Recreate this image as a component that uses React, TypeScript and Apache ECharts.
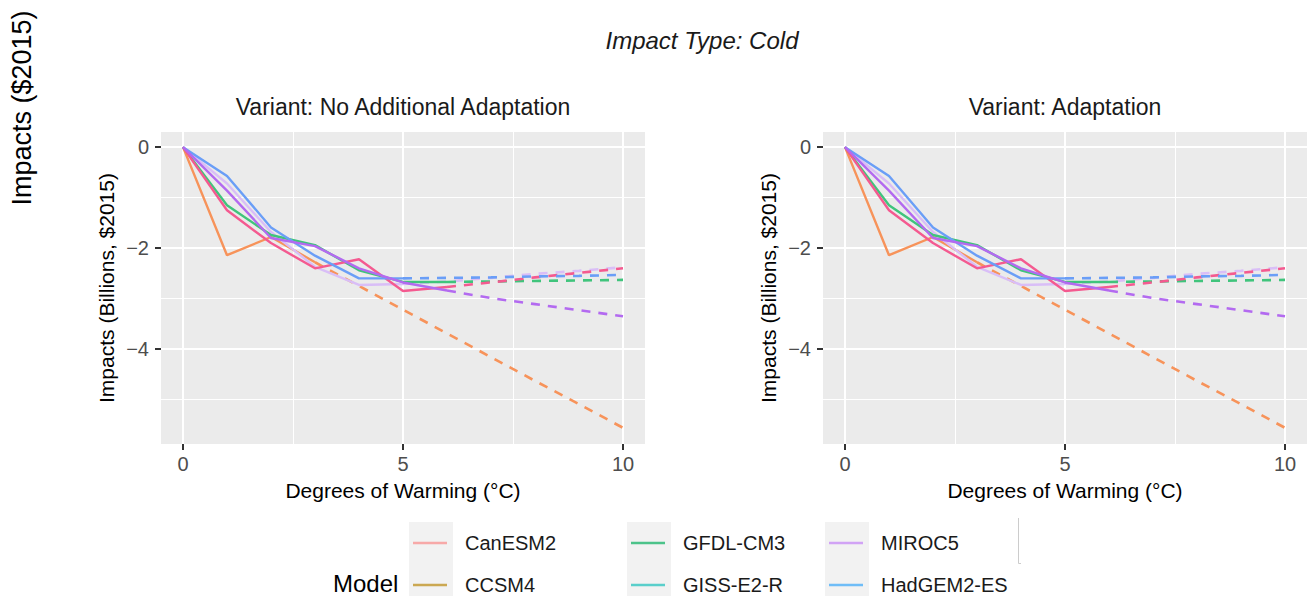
import React, { useEffect, useRef } from 'react';
import * as echarts from 'echarts';

// Degrees of warming (°C) at which impacts are reported
const warming = [0, 1, 2, 3, 4, 5, 6, 7, 8, 9, 10];

const models = ['CanESM2', 'CCSM4', 'GFDL-CM3', 'GISS-E2-R', 'HadGEM2-ES', 'MIROC5'];

// Cold impacts (billions, $2015) per model, one value per degree of warming
const canESM2 = [0, -1.25, -1.9, -2.4, -2.22, -2.85, -2.77, -2.68, -2.58, -2.49, -2.4];
const ccsm4 = [0, -2.14, -1.78, -2.28, -2.75, -3.22, -3.69, -4.16, -4.63, -5.09, -5.56];
const gfdlCM3 = [0, -1.15, -1.74, -1.94, -2.44, -2.67, -2.67, -2.66, -2.65, -2.64, -2.63];
const gissE2R = [0, -0.72, -1.68, -2.37, -2.73, -2.71, -2.66, -2.59, -2.51, -2.45, -2.38];
const hadGEM2ES = [0, -0.57, -1.59, -2.15, -2.6, -2.6, -2.59, -2.58, -2.56, -2.55, -2.53];
const miroc5 = [0, -0.86, -1.8, -1.96, -2.4, -2.68, -2.84, -2.99, -3.11, -3.23, -3.35];

// Last degree of warming covered by the model run; beyond it the curve is extrapolated
const observedUpTo = [6, 3, 6, 5, 5, 6];

const panels = ['Variant: No Additional Adaptation', 'Variant: Adaptation'];

const xTicks = [0, 5, 10];
const xMinorTicks = [2.5, 7.5];
const yTicks = [0, -2, -4];
const yMinorTicks = [-1, -3, -5];

const FONT = '"Liberation Sans", Arial, Helvetica, sans-serif';

const seriesValues = [canESM2, ccsm4, gfdlCM3, gissE2R, hadGEM2ES, miroc5];
const lineColors = ['#F45A90', '#F7935A', '#40C47C', '#D9BEF7', '#6A9EF7', '#B36AF0'];
const keyColors = ['#F7A9A8', '#CBA852', '#4CC38A', '#5ACFCB', '#6FBDF7', '#D1A3F5'];
const drawOrder = [1, 3, 2, 0, 4, 5];
const legendColumns = [
  ['CanESM2', 'CCSM4'],
  ['GFDL-CM3', 'GISS-E2-R'],
  ['MIROC5', 'HadGEM2-ES'],
];

const gridLeft = [161, 823];
const gridTop = 132;
const gridWidth = 484;
const gridHeight = 312;
const legendLeft = [413, 631, 829];

function minusLabel(v: number) {
  return v < 0 ? '\u2212' + Math.abs(v) : String(v);
}

function buildOption() {
  const grid = gridLeft.map((left) => ({
    left,
    top: gridTop,
    width: gridWidth,
    height: gridHeight,
    show: true,
    backgroundColor: '#EBEBEB',
    borderWidth: 0,
  }));

  const hiddenLine = { show: false, onZero: false };

  const xAxis: any[] = [];
  const yAxis: any[] = [];
  gridLeft.forEach((_, g) => {
    xAxis.push({
      type: 'value',
      gridIndex: g,
      position: 'bottom',
      min: -0.5,
      max: 10.5,
      axisLine: hiddenLine,
      axisTick: { show: true, customValues: xTicks, length: 6, lineStyle: { color: '#333333', width: 2 } },
      axisLabel: { customValues: xTicks, margin: 10, fontSize: 20, color: '#4D4D4D', fontFamily: FONT },
      splitLine: { show: true, lineStyle: { color: '#FFFFFF', width: 2 } },
      name: 'Degrees of Warming (°C)',
      nameLocation: 'middle',
      nameGap: 36,
      nameTextStyle: { fontSize: 21, color: '#000000', fontFamily: FONT },
    });
    xAxis.push({
      type: 'value',
      gridIndex: g,
      position: 'top',
      min: -0.5,
      max: 10.5,
      axisLine: hiddenLine,
      axisTick: { show: false, customValues: xMinorTicks },
      axisLabel: { show: false, customValues: xMinorTicks },
      splitLine: { show: true, lineStyle: { color: '#FFFFFF', width: 1 } },
    });
    yAxis.push({
      type: 'value',
      gridIndex: g,
      position: 'left',
      min: -5.88,
      max: 0.3,
      axisLine: hiddenLine,
      axisTick: { show: true, customValues: yTicks, length: 6, lineStyle: { color: '#333333', width: 2 } },
      axisLabel: {
        customValues: yTicks,
        margin: 12,
        fontSize: 20,
        color: '#4D4D4D',
        fontFamily: FONT,
        formatter: (v: number) => minusLabel(v),
      },
      splitLine: { show: true, lineStyle: { color: '#FFFFFF', width: 2 } },
      name: 'Impacts (Billions, $2015)',
      nameLocation: 'middle',
      nameGap: 44,
      nameTextStyle: { fontSize: 21, color: '#000000', fontFamily: FONT },
    });
    yAxis.push({
      type: 'value',
      gridIndex: g,
      position: 'right',
      min: -5.88,
      max: 0.3,
      axisLine: hiddenLine,
      axisTick: { show: false, customValues: yMinorTicks },
      axisLabel: { show: false, customValues: yMinorTicks },
      splitLine: { show: true, lineStyle: { color: '#FFFFFF', width: 1 } },
    });
  });

  const series: any[] = [];
  gridLeft.forEach((_, g) => {
    drawOrder.forEach((i) => {
      const values = seriesValues[i];
      const end = observedUpTo[i];
      const points = warming.map((x, k) => [x, values[k]]);
      const common = {
        type: 'line',
        name: models[i],
        xAxisIndex: g * 2,
        yAxisIndex: g * 2,
        symbol: 'none',
        showSymbol: false,
        silent: true,
        itemStyle: { color: keyColors[i] },
      };
      series.push({
        ...common,
        data: points.slice(0, end + 1),
        lineStyle: { color: lineColors[i], width: 2.4 },
      });
      series.push({
        ...common,
        data: points.slice(end),
        lineStyle: { color: lineColors[i], width: 2.6, type: [9, 8] },
      });
    });
  });

  const legend = legendColumns.map((names, c) => ({
    orient: 'vertical',
    left: legendLeft[c],
    top: 533,
    itemGap: 22,
    itemWidth: 34,
    itemHeight: 2.5,
    icon: 'rect',
    selectedMode: false,
    padding: 0,
    textStyle: { fontSize: 20, color: '#1A1A1A', fontFamily: FONT, padding: [0, 0, 0, 13], lineHeight: 20 },
    data: names.map((n) => ({ name: n, itemStyle: { color: keyColors[models.indexOf(n)] } })),
  }));

  const title = [
    {
      text: 'Impact Type: Cold',
      left: 702,
      top: 28,
      textAlign: 'center',
      padding: 0,
      textStyle: { fontSize: 24, fontStyle: 'italic', fontWeight: 'normal', color: '#1A1A1A', fontFamily: FONT },
    },
    ...panels.map((p, g) => ({
      text: p,
      left: gridLeft[g] + gridWidth / 2,
      top: 95,
      textAlign: 'center',
      padding: 0,
      textStyle: { fontSize: 23, fontWeight: 'normal', color: '#1A1A1A', fontFamily: FONT },
    })),
  ];

  const keyBoxes = legendLeft.map((l) => ({
    type: 'rect',
    shape: { x: l - 4, y: 522, width: 44, height: 80 },
    style: { fill: '#F2F2F2' },
    z: -1,
  }));

  const graphic = [
    ...keyBoxes,
    {
      type: 'text',
      x: 333,
      y: 583,
      style: { text: 'Model', font: `24px ${FONT}`, fill: '#000000', align: 'left', verticalAlign: 'middle' },
    },
    {
      type: 'text',
      x: 22,
      y: 108,
      rotation: Math.PI / 2,
      style: { text: 'Impacts ($2015)', font: `27px ${FONT}`, fill: '#000000', align: 'center', verticalAlign: 'middle' },
    },
    {
      type: 'polyline',
      shape: { points: [[1018.5, 518], [1018.5, 563.5], [1021, 563.5]] },
      style: { stroke: '#CCCCCC', lineWidth: 1, fill: 'none' },
    },
  ];

  return {
    animation: false,
    backgroundColor: '#FFFFFF',
    textStyle: { fontFamily: FONT },
    title,
    grid,
    xAxis,
    yAxis,
    legend,
    graphic,
    series,
  };
}

export default function App() {
  const ref = useRef<HTMLDivElement>(null);

  useEffect(() => {
    if (!ref.current) return;
    const chart = echarts.init(ref.current, undefined, { renderer: 'svg' });
    chart.setOption(buildOption() as any);
    return () => chart.dispose();
  }, []);

  return (
    <div
      ref={ref}
      style={{ position: 'absolute', left: 0, top: 0, width: 1311, height: 596, background: '#FFFFFF' }}
    />
  );
}
